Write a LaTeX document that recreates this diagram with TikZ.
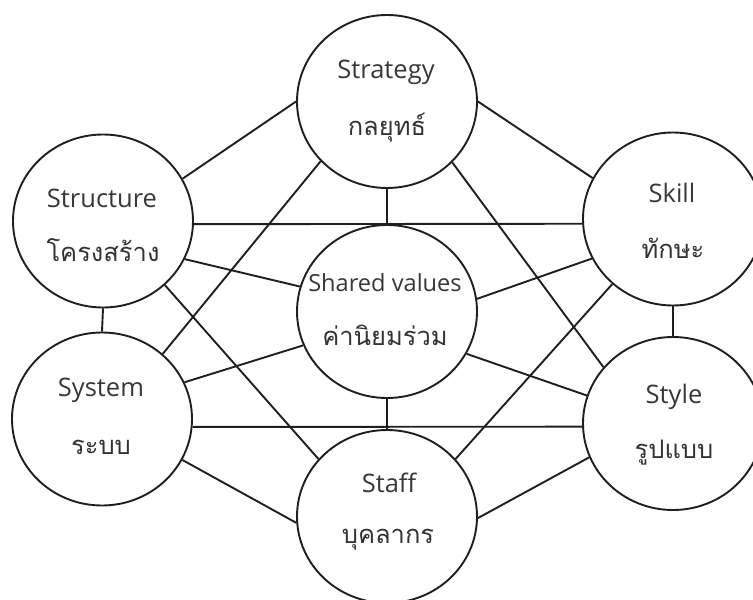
\documentclass[tikz,border=0pt]{standalone}
\usepackage{fontspec}
\setmainfont{Open Sans}
\newfontfamily\thaifont[Script=Thai]{Loma}
\usetikzlibrary{shapes.geometric}
\begin{document}
\begin{tikzpicture}[x=1pt,y=-1pt,
  ring/.style={draw=black!88, line width=1.9pt, ellipse, minimum width=180pt,
    minimum height=173pt, inner sep=0pt},
  link/.style={draw=black!88, line width=1.9pt},
  en/.style={font=\fontsize{25.5}{25.5}\selectfont, text=black!78, inner sep=0pt},
  ensmall/.style={en, font=\fontsize{23.6}{23.6}\selectfont},
  th/.style={font=\thaifont\fontsize{25.5}{25.5}\selectfont, text=black!80, inner sep=0pt}]
\clip (0,0) rectangle (753,600);
\fill[white] (0,0) rectangle (753,600);

% the seven elements
\node[ring] (strat)  at (387,101.5) {};
\node[ring] (struct) at (103,221)   {};
\node[ring] (skill)  at (673,219)   {};
\node[ring] (sv)     at (387,311.5) {};
\node[ring] (sys)    at (102,419)   {};
\node[ring] (style)  at (673,423.5) {};
\node[ring] (staff)  at (387,516.5) {};

% labels
\node[en] (strat-en)  at (386,72)  {Strategy};
\node[th] (strat-th)  at (387,128) {กลยุทธ์};
\node[en] (struct-en) at (102,198) {Structure};
\node[th] (struct-th) at (103,250) {โครงสร้าง};
\node[en] (skill-en)  at (672,193) {Skill};
\node[th] (skill-th)  at (673,248) {ทักษะ};
\node[ensmall] (sv-en) at (385,283) {Shared values};
\node[th] (sv-th)     at (385,335) {ค่านิยมร่วม};
\node[en] (sys-en)    at (101,390) {System};
\node[th] (sys-th)    at (101,447) {ระบบ};
\node[en] (style-en)  at (674,397) {Style};
\node[th] (style-th)  at (674,453) {รูปแบบ};
\node[en] (staff-en)  at (389,483) {Staff};
\node[th] (staff-th)  at (388,540) {บุคลากร};

% connections
\draw[link] (strat.180)   -- (struct.28);
\draw[link] (strat.0)     -- (skill.153);
\draw[link] (strat.270)   -- (sv.90);
\draw[link] (strat.222.5) -- (sys.47);
\draw[link] (strat.317)   -- (style.141);
\draw[link] (struct.358)  -- (skill.183);
\draw[link] (struct.335)  -- (sv.164);
\draw[link] (struct.270)  -- (sys.90);
\draw[link] (struct.314)  -- (staff.140);
\draw[link] (skill.206)   -- (sv.8.5);
\draw[link] (skill.270)   -- (style.90);
\draw[link] (skill.227)   -- (staff.40.6);
\draw[link] (sv.202)      -- (sys.24);
\draw[link] (sv.332.6)    -- (style.162);
\draw[link] (sv.270)      -- (staff.90);
\draw[link] (sys.355)     -- (style.182);
\draw[link] (sys.333.4)   -- (staff.184);
\draw[link] (style.202)   -- (staff.359);
\end{tikzpicture}
\end{document}
